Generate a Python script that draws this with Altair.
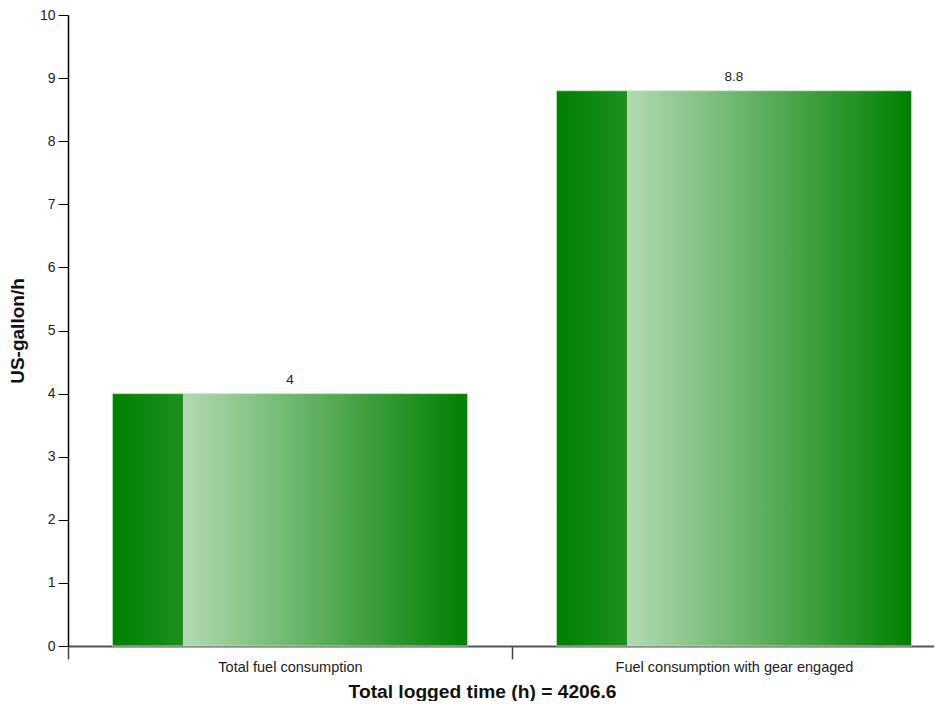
import altair as alt
import pandas as pd

categories = ["Total fuel consumption", "Fuel consumption with gear engaged"]
values = [4, 8.8]
labels = ["4", "8.8"]
y_ticks = [0, 1, 2, 3, 4, 5, 6, 7, 8, 9, 10]
x_title = "Total logged time (h) = 4206.6"
y_title = "US-gallon/h"

df = pd.DataFrame({"category": categories, "value": values, "label": labels})

grad = alt.Gradient(
    gradient="linear",
    stops=[
        alt.GradientStop(color="#008000", offset=0),
        alt.GradientStop(color="#1e901e", offset=0.2),
        alt.GradientStop(color="#b2d9b2", offset=0.2),
        alt.GradientStop(color="#008000", offset=1),
    ],
    x1=0, x2=1, y1=0, y2=0,
)

FONT = "Liberation Sans"
STEP = 444

x_scale = alt.Scale(paddingInner=0.2, paddingOuter=0.1, range=[0, 2 * STEP])

x_enc = alt.X(
    "category:N",
    sort=categories,
    scale=x_scale,
    axis=alt.Axis(
        title=x_title,
        labelAngle=0,
        tickOffset=-STEP / 2,
        labelOffset=STEP / 2,
        domainColor="#555555",
        domainWidth=2,
        tickColor="#444444",
        tickWidth=1.5,
        tickSize=13,
        labelPadding=1,
        labelLimit=0,
        labelFontSize=14.5,
        labelFont=FONT,
        labelColor="#222222",
        titleFont=FONT,
        titleFontSize=19.2,
        titleFontWeight="bold",
        titleColor="#111111",
        titlePadding=9,
        titleX=414,
        titleAlign="center",
    ),
)

y_enc = alt.Y(
    "value:Q",
    scale=alt.Scale(domain=[0, 10], nice=False),
    axis=alt.Axis(
        title=y_title,
        values=y_ticks,
        format="d",
        grid=False,
        domainColor="#000000",
        domainWidth=1.5,
        tickColor="#000000",
        tickSize=10,
        tickWidth=1,
        labelPadding=3,
        labelFontSize=14,
        labelFont=FONT,
        labelColor="#222222",
        titleFont=FONT,
        titleFontSize=19,
        titleFontWeight="bold",
        titleColor="#111111",
        titlePadding=12,
    ),
)

base = alt.Chart(df)

bars = base.mark_bar(
    color=grad,
    stroke="#cfe8cf",
    strokeWidth=1,
    strokeOpacity=0.8,
).encode(x=x_enc, y=y_enc)

text = base.mark_text(
    dy=-7,
    baseline="bottom",
    fontSize=13.5,
    font=FONT,
    color="#222222",
).encode(x=alt.X("category:N", sort=categories, scale=x_scale), y="value:Q", text="label:N")

chart = (
    alt.layer(bars, text)
    .properties(
        width=866,
        height=631,
        autosize=alt.AutoSizeParams(type="none"),
        padding={"left": 60, "top": 7, "right": 0, "bottom": 55},
    )
    .configure_view(stroke=None)
    .configure_axis(labelFont=FONT, titleFont=FONT)
)

chart.save("out.html", embed_options={"renderer": "svg", "actions": False})
